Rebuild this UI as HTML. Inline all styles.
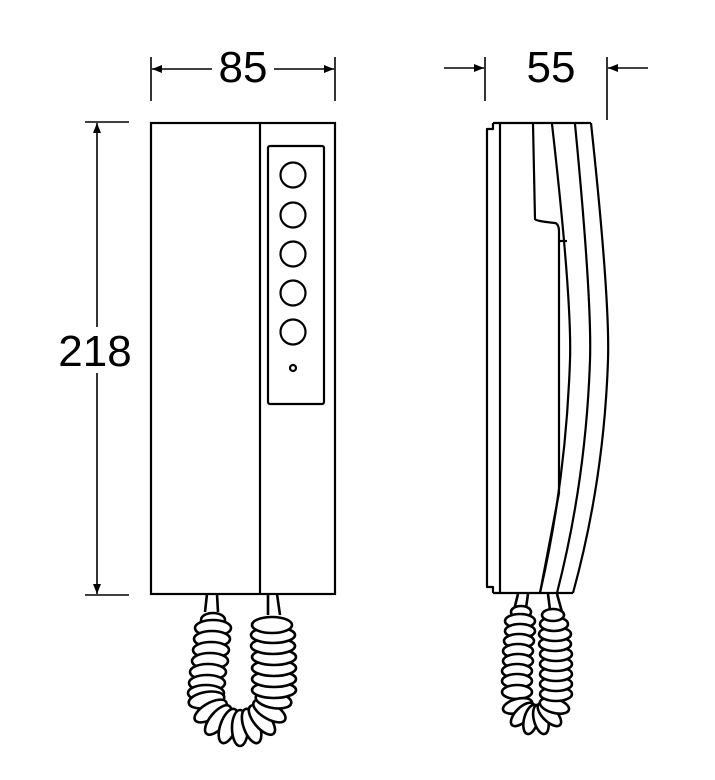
<!DOCTYPE html>
<html><head><meta charset="utf-8"><style>
html,body{margin:0;padding:0;background:#fff;}
svg{display:block;}
text{font-family:"Liberation Sans",Arial,sans-serif;font-size:44px;fill:#000;}
</style></head><body>
<svg width="715" height="780" viewBox="0 0 715 780" xmlns="http://www.w3.org/2000/svg">
<defs>
<marker id="ar" viewBox="0 0 10 10" refX="10" refY="5" markerWidth="14" markerHeight="10" markerUnits="userSpaceOnUse" orient="auto"><path d="M0,1 L10,5 L0,9 z" fill="#000"/></marker>
</defs>
<g stroke="#000" stroke-width="1.6" fill="none">
<line x1="151" y1="57" x2="151" y2="101"/>
<line x1="335" y1="57" x2="335" y2="101"/>
<line x1="212" y1="69" x2="152" y2="69" marker-end="url(#ar)"/>
<line x1="274" y1="69" x2="334" y2="69" marker-end="url(#ar)"/>
<line x1="485" y1="57" x2="485" y2="101"/>
<line x1="607" y1="57" x2="607" y2="120"/>
<line x1="444" y1="68" x2="484" y2="68" marker-end="url(#ar)"/>
<line x1="648" y1="68" x2="608" y2="68" marker-end="url(#ar)"/>
<line x1="85" y1="122" x2="129" y2="122"/>
<line x1="85" y1="595" x2="129" y2="595"/>
<line x1="97" y1="327" x2="97" y2="123" marker-end="url(#ar)"/>
<line x1="97" y1="373" x2="97" y2="594" marker-end="url(#ar)"/>
</g>
<text x="243" y="82" text-anchor="middle">85</text>
<text x="551" y="82" text-anchor="middle">55</text>
<text x="95" y="366" text-anchor="middle">218</text>

<g stroke="#000" stroke-width="2.2" fill="none">
<rect x="151" y="123" width="184" height="471"/>
<line x1="260" y1="123" x2="260" y2="594"/>
<rect x="268" y="146" width="56" height="258" rx="2"/>
<circle cx="293" cy="175" r="12.5"/>
<circle cx="293" cy="215" r="12.5"/>
<circle cx="293" cy="254" r="12.5"/>
<circle cx="293" cy="293" r="12.5"/>
<circle cx="293" cy="332" r="12.5"/>
<circle cx="293" cy="368" r="3"/>
</g>

<g stroke="#000" stroke-width="2.2" fill="none" stroke-linejoin="round">
<path d="M493,123 L493,129 L487,129 L487,587 L493,587 L493,593"/>
<line x1="493" y1="123" x2="591" y2="123"/>
<line x1="493" y1="593" x2="573" y2="593"/>
<line x1="500" y1="123" x2="500" y2="593"/>
<path d="M533,124 L535,219 Q535,221 555,223 Q559,224 559,232 L559,493 L540,593"/>
<line x1="559" y1="241" x2="567" y2="241"/>
<path d="M552,124 Q572,300 570,360 Q566,480 540,593"/>
<path d="M575,124 Q592,300 590,360 Q586,480 557,593"/>
<path d="M591,123 Q610,300 608,360 Q604,480 573,593"/>
</g>

<g stroke="#000" stroke-width="2.6" fill="#fff">
<!-- front cord -->
<path d="M207,594 L205,612 M217,594 L218,612" fill="none"/>
<path d="M268,594 L268,615 M277,594 L280,615" fill="none"/>
<ellipse cx="213" cy="620" rx="12" ry="7"/>
<ellipse cx="213" cy="628" rx="18" ry="8"/>
<ellipse cx="212" cy="639" rx="18" ry="8"/>
<ellipse cx="211" cy="650" rx="18" ry="8"/>
<ellipse cx="210" cy="661" rx="18" ry="8"/>
<ellipse cx="208" cy="672" rx="18" ry="8"/>
<ellipse cx="207" cy="683" rx="18" ry="8"/>
<ellipse cx="206" cy="693" rx="18" ry="8"/>
<ellipse cx="206.5" cy="700" rx="18" ry="8" transform="rotate(170 206.5 700)"/>
<ellipse cx="210.6" cy="711" rx="18" ry="8" transform="rotate(150 210.6 711)"/>
<ellipse cx="218.1" cy="720" rx="18" ry="8" transform="rotate(130 218.1 720)"/>
<ellipse cx="228.4" cy="726" rx="18" ry="8" transform="rotate(110 228.4 726)"/>
<ellipse cx="240" cy="728" rx="18" ry="8" transform="rotate(90 240 728)"/>
<ellipse cx="251.6" cy="726" rx="18" ry="8" transform="rotate(70 251.6 726)"/>
<ellipse cx="261.9" cy="720" rx="18" ry="8" transform="rotate(50 261.9 720)"/>
<ellipse cx="269.4" cy="711" rx="18" ry="8" transform="rotate(30 269.4 711)"/>
<ellipse cx="273.5" cy="700" rx="18" ry="8" transform="rotate(10 273.5 700)"/>
<ellipse cx="274" cy="690" rx="22" ry="8"/>
<ellipse cx="274" cy="679" rx="22" ry="8"/>
<ellipse cx="274" cy="668" rx="22" ry="8"/>
<ellipse cx="274" cy="657" rx="22" ry="8"/>
<ellipse cx="273" cy="646" rx="22" ry="8"/>
<ellipse cx="273" cy="635" rx="22" ry="8"/>
<ellipse cx="272" cy="625" rx="20" ry="8"/>
<!-- side cord -->
<path d="M518,594 L514,610 M528,594 L526,608" fill="none"/>
<path d="M548,594 L550,610 M557,594 L562,612" fill="none"/>
<ellipse cx="521" cy="612" rx="10" ry="6"/>
<ellipse cx="520" cy="621" rx="15" ry="7"/>
<ellipse cx="520" cy="631" rx="15" ry="7"/>
<ellipse cx="519" cy="641" rx="15" ry="7"/>
<ellipse cx="518" cy="651" rx="15" ry="7"/>
<ellipse cx="518" cy="661" rx="15" ry="7"/>
<ellipse cx="517" cy="671" rx="15" ry="7"/>
<ellipse cx="517" cy="681" rx="15" ry="7"/>
<ellipse cx="517" cy="692" rx="15" ry="7"/>
<ellipse cx="517.6" cy="705.9" rx="15" ry="7" transform="rotate(165 517.6 705.9)"/>
<ellipse cx="522.6" cy="714.4" rx="15" ry="7" transform="rotate(135 522.6 714.4)"/>
<ellipse cx="531.1" cy="719.4" rx="15" ry="7" transform="rotate(105 531.1 719.4)"/>
<ellipse cx="540.9" cy="719.4" rx="15" ry="7" transform="rotate(75 540.9 719.4)"/>
<ellipse cx="549.4" cy="714.4" rx="15" ry="7" transform="rotate(45 549.4 714.4)"/>
<ellipse cx="554.4" cy="705.9" rx="15" ry="7" transform="rotate(15 554.4 705.9)"/>
<ellipse cx="556" cy="694" rx="16" ry="7"/>
<ellipse cx="556" cy="684" rx="16" ry="7"/>
<ellipse cx="556" cy="674" rx="16" ry="7"/>
<ellipse cx="556" cy="664" rx="16" ry="7"/>
<ellipse cx="556" cy="654" rx="16" ry="7"/>
<ellipse cx="555" cy="644" rx="16" ry="7"/>
<ellipse cx="555" cy="634" rx="16" ry="7"/>
<ellipse cx="554" cy="624" rx="14" ry="7"/>
<ellipse cx="553" cy="615" rx="11" ry="6"/>
</g>
</svg>
</body></html>
